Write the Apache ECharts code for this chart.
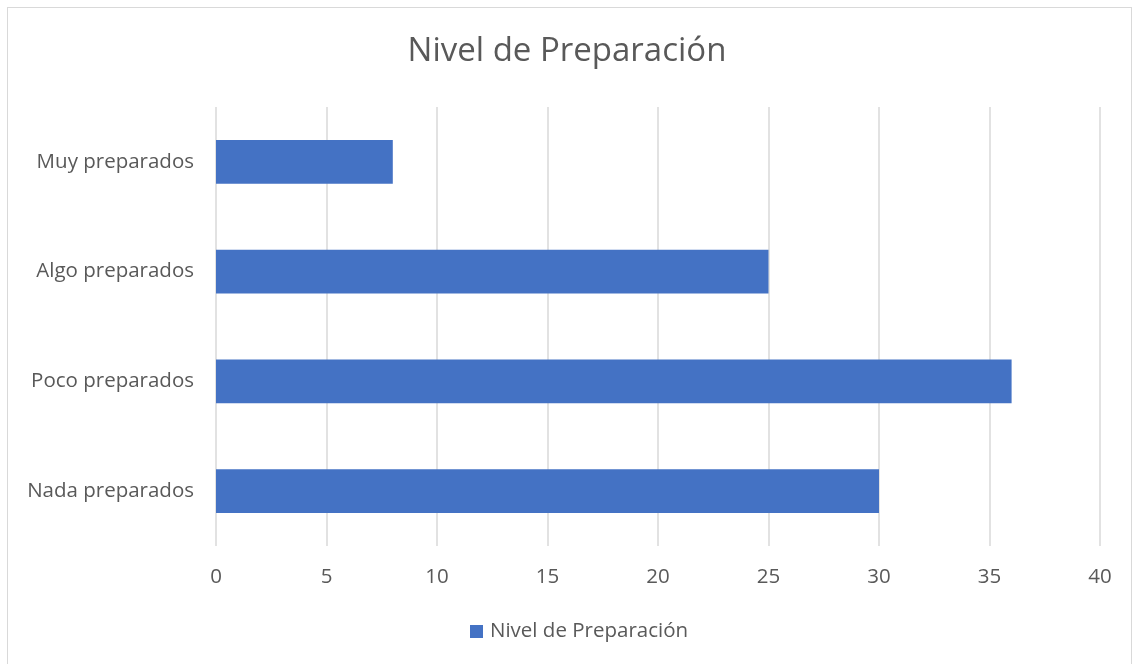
<!DOCTYPE html>
<html><head><meta charset="utf-8">
<script src="https://cdn.jsdelivr.net/npm/echarts@6/dist/echarts.min.js"></script>
<style>html,body{margin:0;padding:0;background:#fff}#c{width:1134px;height:664px}
#frame{position:absolute;left:7px;top:7px;width:1125px;height:660px;border:1px solid #d9d9d9;box-sizing:border-box;pointer-events:none}</style>
</head><body><div id="c"></div><div id="frame"></div>
<script>
const categories = ["Nada preparados", "Poco preparados", "Algo preparados", "Muy preparados"];
const values = [30, 36, 25, 8];
const seriesName = "Nivel de Preparación";
const titleText = "Nivel de Preparación";
const FONT = "'Open Sans', sans-serif";
const chart = echarts.init(document.getElementById('c'));
chart.setOption({
  animation: false,
  title: { text: titleText, left: 'center', top: 30, textStyle: { fontFamily: FONT, fontSize: 33, fontWeight: 'normal', color: '#595959' } },
  legend: { bottom: 17, left: 465, icon: 'rect', itemWidth: 13, itemHeight: 13, itemGap: 7,
    textStyle: { fontFamily: FONT, fontSize: 20.5, color: '#595959', padding: [0, 0, 0, 2] }, data: [seriesName] },
  grid: { left: 216, right: 34, top: 107, bottom: 118 },
  xAxis: { type: 'value', min: 0, max: 40, interval: 5,
    axisLine: { show: false }, axisTick: { show: false },
    splitLine: { lineStyle: { color: '#d9d9d9', width: 1.5 } },
    axisLabel: { fontFamily: FONT, fontSize: 20.5, color: '#595959', margin: 21 } },
  yAxis: { type: 'category', data: categories,
    axisLine: { show: false }, axisTick: { show: false },
    axisLabel: { fontFamily: FONT, fontSize: 20.5, color: '#595959', margin: 22 } },
  series: [{ name: seriesName, type: 'bar', data: values, barWidth: '40%', itemStyle: { color: '#4472c4' } }]
});
</script></body></html>
